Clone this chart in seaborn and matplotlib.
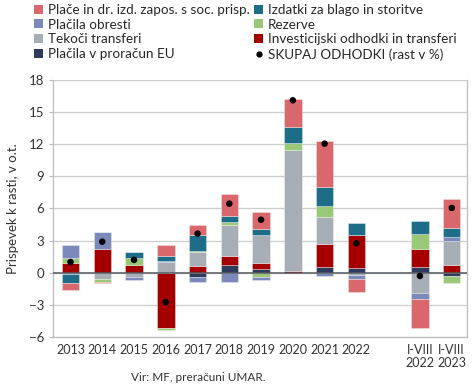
import matplotlib
matplotlib.use('Agg')
import matplotlib.pyplot as plt
import seaborn as sns
import numpy as np
import pandas as pd
from matplotlib.patches import Patch
from matplotlib.lines import Line2D

# kategorije (leta in obdobje I-VIII)
kategorije = ['2013', '2014', '2015', '2016', '2017', '2018', '2019', '2020',
              '2021', '2022', 'I-VIII\n2022', 'I-VIII\n2023']

# prispevki k rasti po skupinah odhodkov (o.t.)
placila_eu = [0.0, 0.0, 0.0, 0.0, -0.4, 0.75, 0.38, 0.0, 0.5, 0.45, 0.5, -0.28]
investicije = [0.95, 2.25, 0.7, -5.15, 0.6, 0.85, 0.55, 0.2, 2.2, 3.05, 1.7, 0.75]
tekoci = [-0.15, -0.6, -0.38, 1.0, 1.35, 2.9, 2.6, 11.25, 2.5, -0.2, -1.9, 2.25]
rezerve = [0.45, -0.22, 0.7, -0.15, 0.1, 0.2, -0.4, 0.7, 1.0, 0.0, 1.4, -0.7]
obresti = [1.2, 1.6, -0.3, 0.1, -0.5, -0.9, -0.3, 0.0, -0.3, -0.4, -0.55, 0.35]
blago = [-0.8, 0.0, 0.5, 0.45, 1.45, 0.6, 0.55, 1.45, 1.8, 1.1, 1.2, 0.8]
place = [-0.7, -0.1, 0.0, 1.0, 1.0, 2.05, 1.6, 2.6, 4.3, -1.2, -2.7, 2.75]
skupaj = [1.0, 2.9, 1.2, -2.75, 3.65, 6.45, 4.95, 16.1, 12.05, 2.75, -0.3, 6.05]

serije = [
    ('Plačila v proračun EU', placila_eu, '#2f3b5c'),
    ('Investicijski odhodki in transferi', investicije, '#a50000'),
    ('Tekoči transferi', tekoci, '#a8aeb5'),
    ('Rezerve', rezerve, '#98c878'),
    ('Plačila obresti', obresti, '#7b89bb'),
    ('Izdatki za blago in storitve', blago, '#1d6d88'),
    ('Plače in dr. izd. zapos. s soc. prisp.', place, '#d9676b'),
]

sns.set_theme(style='white')
plt.rcParams['font.family'] = ['Lato', 'DejaVu Sans']

fig = plt.figure(figsize=(4.75, 3.88), dpi=100)
ax = fig.add_axes([0.1116, 0.1314, 0.8714, 0.6626])

x = np.array([i if i < 10 else i + 1 for i in range(len(kategorije))], dtype=float)
pos_bottom = np.zeros(len(x))
neg_bottom = np.zeros(len(x))
handles = {}
for ime, vals, barva in serije:
    v = np.array(vals)
    bottom = np.where(v >= 0, pos_bottom, neg_bottom)
    ax.bar(x, v, bottom=bottom, width=0.55, color=barva,
           edgecolor=(1, 1, 1, 0.6), linewidth=0.4, zorder=3)
    pos_bottom += np.where(v >= 0, v, 0)
    neg_bottom += np.where(v < 0, v, 0)
    handles[ime] = Patch(facecolor=barva, edgecolor='none')

df_sk = pd.DataFrame({'x': x, 'skupaj': skupaj})
sns.scatterplot(data=df_sk, x='x', y='skupaj', color='black', s=22,
                edgecolor='none', zorder=5, ax=ax, legend=False)

ax.axhline(0, color='#555a60', linewidth=1.1, zorder=4)
ax.set_ylim(-6, 18)
ax.set_yticks(np.arange(-6, 19, 3))
ax.set_xlim(-0.55, 12.48)
ax.set_xticks(x)
ax.set_xticklabels(kategorije, fontsize=9, color='#333333', linespacing=1.15)
ax.tick_params(axis='y', labelsize=9.5, colors='#333333', length=3, width=0.8,
               direction='out', left=True, color='#bbbbbb')
ax.tick_params(axis='x', length=0, pad=5)
ax.yaxis.grid(True, color='#cccccc', linewidth=0.9, zorder=0)
ax.set_axisbelow(True)
for s in ['left', 'bottom', 'right']:
    ax.spines[s].set_color('#bdbdbd')
    ax.spines[s].set_linewidth(0.9)
ax.spines['top'].set_visible(False)
ax.set_xlabel('')
ax.set_ylabel('Prispevek k rasti, v o.t.', fontsize=9.5, color='#333333', labelpad=7)

# legenda v dveh stolpcih
stolpec1 = ['Plače in dr. izd. zapos. s soc. prisp.', 'Plačila obresti',
            'Tekoči transferi', 'Plačila v proračun EU']
stolpec2 = ['Izdatki za blago in storitve', 'Rezerve',
            'Investicijski odhodki in transferi']
pika = Line2D([], [], marker='o', color='black', linestyle='none', markersize=3.5)
leg_kw = dict(loc='upper left', frameon=False, fontsize=9.7, handlelength=0.65,
              handleheight=0.65, handletextpad=0.35, labelspacing=0.2,
              borderpad=0, borderaxespad=0)
fig.legend([handles[n] for n in stolpec1], stolpec1,
           bbox_to_anchor=(0.072, 0.99), **leg_kw)
fig.legend([handles[n] for n in stolpec2] + [pika],
           stolpec2 + ['SKUPAJ ODHODKI (rast v %)'],
           bbox_to_anchor=(0.535, 0.99), **leg_kw)

fig.text(0.275, 0.018, 'Vir: MF, preračuni UMAR.', fontsize=8.5, color='#333333')

fig.savefig('out.png', dpi=100)
